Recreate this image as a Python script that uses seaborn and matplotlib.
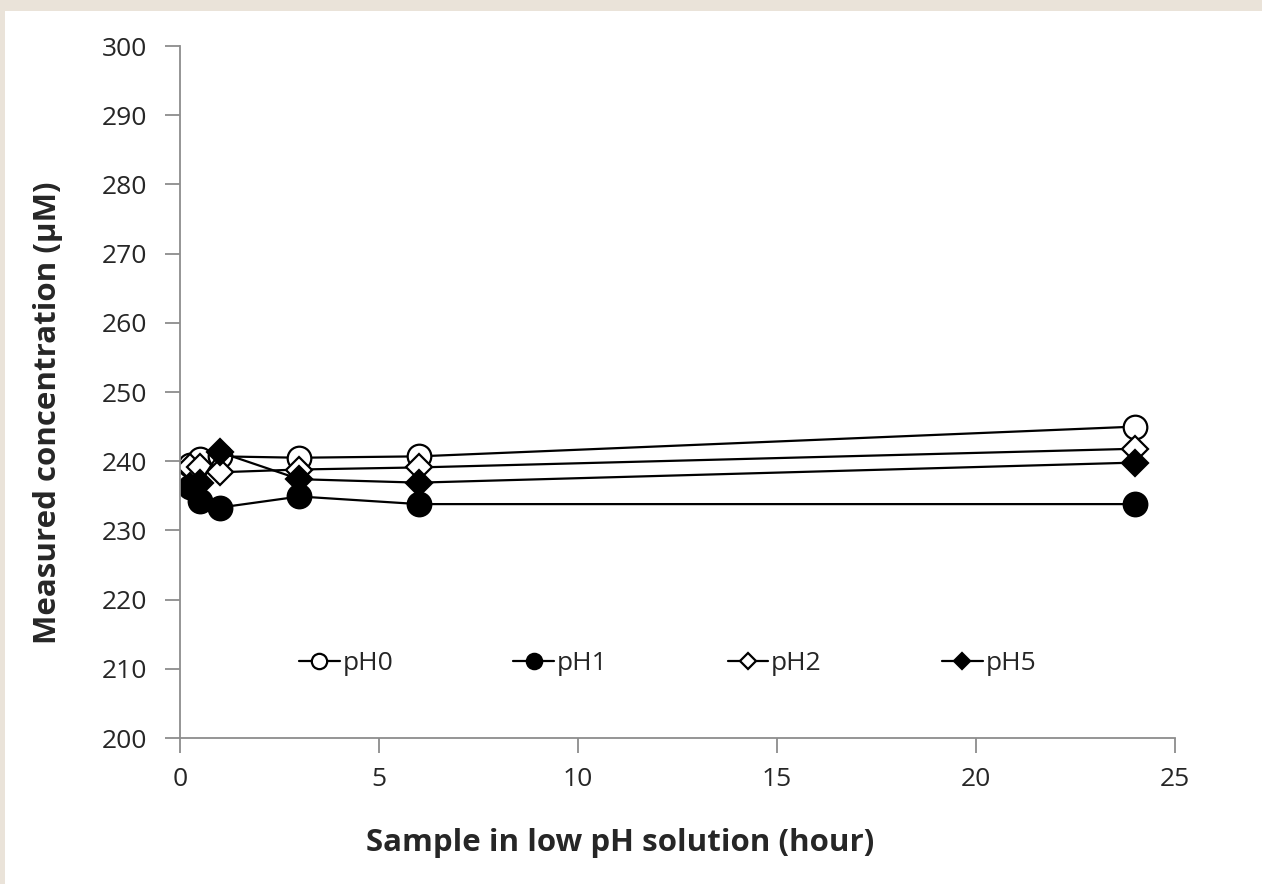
import numpy as np
import pandas as pd
import matplotlib
matplotlib.use("Agg")
import matplotlib.pyplot as plt
import seaborn as sns
from matplotlib.patches import Rectangle

hours = [0.25, 0.5, 1, 3, 6, 24]
ph0 = [239.5, 240.3, 240.7, 240.5, 240.7, 245.0]
ph1 = [236.2, 234.2, 233.3, 234.9, 233.8, 233.8]
ph2 = [239.1, 239.2, 238.4, 238.8, 239.1, 241.8]
ph5 = [236.4, 236.9, 241.3, 237.4, 236.9, 239.8]

series = {"pH0": ph0, "pH1": ph1, "pH2": ph2, "pH5": ph5}
marker_style = {
    "pH0": dict(marker="o", mfc="white", ms=17),
    "pH1": dict(marker="o", mfc="black", ms=17),
    "pH2": dict(marker="D", mfc="white", ms=13),
    "pH5": dict(marker="D", mfc="black", ms=13),
}

sns.set_style("white")
plt.rcParams["font.family"] = ["Open Sans", "DejaVu Sans"]

fig = plt.figure(figsize=(12.62, 8.84), dpi=100)
fig.patch.set_facecolor("#EAE3D9")
fig.patches.append(Rectangle((5 / 1262, 0), 1, 1 - 11 / 884, transform=fig.transFigure,
                             facecolor="white", edgecolor="none", zorder=-10))
ax = fig.add_axes([180 / 1262, 1 - 738 / 884, 995 / 1262, 692 / 884])
ax.set_facecolor("none")

for name, vals in series.items():
    df = pd.DataFrame({"x": hours, "y": vals})
    st = marker_style[name]
    sns.lineplot(data=df, x="x", y="y", ax=ax, color="black", linewidth=1.6,
                 marker=st["marker"], markersize=st["ms"], markerfacecolor=st["mfc"],
                 markeredgecolor="black", markeredgewidth=1.6, label=name)

ax.set_xlim(0, 25)
ax.set_ylim(200, 300)
ax.set_xticks(range(0, 26, 5))
ax.set_yticks(range(200, 301, 10))
for s in ["top", "right"]:
    ax.spines[s].set_visible(False)
for s in ["left", "bottom"]:
    ax.spines[s].set_color("#8c8c8c")
    ax.spines[s].set_linewidth(1.3)
ax.tick_params(axis="both", direction="out", length=11, width=1.3, color="#8c8c8c",
               labelsize=19, labelcolor="#262626", left=True, bottom=True)
ax.tick_params(axis="y", pad=13)
ax.tick_params(axis="x", pad=10)

ax.set_xlabel("Sample in low pH solution (hour)", fontsize=22.5, fontweight="bold")
ax.set_ylabel("Measured concentration (\u00b5M)", fontsize=22.5, fontweight="bold")
ax.xaxis.set_label_coords(0.442, -0.152)
ax.yaxis.set_label_coords(-0.133, 0.47)
ax.xaxis.label.set_va("center")
ax.yaxis.label.set_va("center")

leg = ax.legend(loc="center", bbox_to_anchor=(0.49, 0.107), ncol=4, frameon=False,
                fontsize=19, markerscale=0.65, handlelength=1.55, columnspacing=4.55,
                handletextpad=0.1)

fig.savefig("out.png", dpi=100, facecolor=fig.get_facecolor())
